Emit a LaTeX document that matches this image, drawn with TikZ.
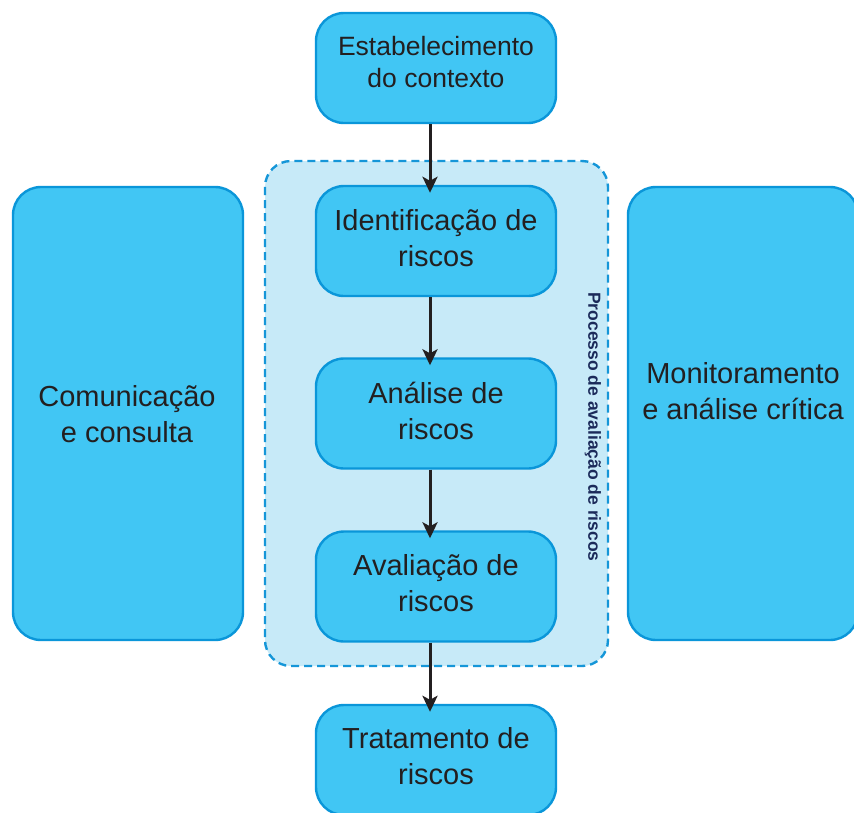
\documentclass[tikz,border=0pt]{standalone}
\usepackage{fontspec}
\setmainfont{Liberation Sans}
\usetikzlibrary{arrows.meta}
\definecolor{boxfill}{HTML}{41C6F4}
\definecolor{boxline}{HTML}{0A96D9}
\definecolor{contfill}{HTML}{C7EAF8}
\definecolor{contline}{HTML}{1596D8}
\definecolor{txt}{HTML}{231F20}
\definecolor{navy}{HTML}{1B2A5A}
\tikzset{
  stepbox/.style={draw=boxline, line width=2.4pt, fill=boxfill, rounded corners=28pt,
    minimum width=240pt, minimum height=110pt, inner sep=0pt},
  steptext/.style={align=center, text=txt, font=\fontsize{29}{36}\selectfont},
  sidebox/.style={draw=boxline, line width=2.4pt, fill=boxfill, rounded corners=28pt,
    minimum width=230pt, minimum height=453pt, inner sep=0pt},
  arr/.style={draw=txt, line width=3pt, -{Stealth[length=16pt,width=15pt,inset=4pt]}},
}
\begin{document}
\begin{tikzpicture}[x=1pt,y=-1pt]
\clip (0,0) rectangle (854,812);
\fill[white] (0,0) rectangle (854,812);
% container
\draw[draw=contline, fill=contfill, line width=2.4pt, dash pattern=on 8pt off 5pt, rounded corners=26pt]
  (265,161) rectangle (608,666);
\node[rotate=-90, text=navy, font=\fontsize{17.5}{19}\selectfont\bfseries] (lab) at (593,427) {Processo de avaliação de riscos};
% side boxes
\node[sidebox] (com) at (128,413.5) {};
\node[steptext] (comt) at (127,414) {Comunicação\\e consulta};
\node[sidebox] (mon) at (743,413.5) {};
\node[steptext] (mont) at (743,391) {Monitoramento\\e análise crítica};
% process boxes
\node[stepbox] (ctx) at (436,68) {};
\node[steptext, font=\fontsize{26.5}{32}\selectfont] (ctxt) at (436,62) {Estabelecimento\\do contexto};
\node[stepbox] (ident) at (436,241) {};
\node[steptext] (identt) at (436,238) {Identificação de\\riscos};
\node[stepbox] (anal) at (436,413.5) {};
\node[steptext] (analt) at (436,410.5) {Análise de\\riscos};
\node[stepbox] (aval) at (436,586.5) {};
\node[steptext] (avalt) at (436,583) {Avaliação de\\riscos};
\node[stepbox] (trat) at (436,760) {};
\node[steptext] (tratt) at (436,756.5) {Tratamento de\\riscos};
% arrows
\draw[arr] ([xshift=-6pt]ctx.south) -- ([xshift=-6pt,yshift=-8pt]ident.north);
\draw[arr] ([xshift=-6pt]ident.south) -- ([xshift=-6pt,yshift=-8pt]anal.north);
\draw[arr] ([xshift=-6pt]anal.south) -- ([xshift=-6pt,yshift=-8pt]aval.north);
\draw[arr] ([xshift=-6pt]aval.south) -- ([xshift=-6pt,yshift=-8pt]trat.north);
\end{tikzpicture}
\end{document}
